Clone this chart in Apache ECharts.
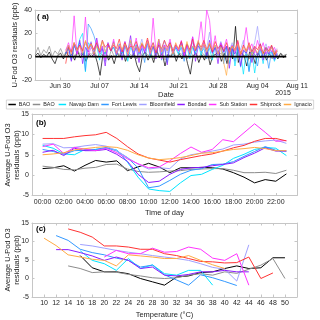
<!DOCTYPE html>
<html><head><meta charset="utf-8">
<script src="https://cdn.jsdelivr.net/npm/echarts@6/dist/echarts.min.js"></script>
<style>html,body{margin:0;padding:0;background:#fff}#c{width:320px;height:320px}</style>
</head><body><div id="c"></div>
<script>
// ---------- shared ----------
const seriesNames = ['BAO', 'BAO ', 'Navajo Dam', 'Fort Lewis', 'Bloomfield', 'Bondad', 'Sub Station', 'Shiprock', 'Ignacio'];
const seriesColors = ['#000000', '#8c8c8c', '#00e5ff', '#3399ff', '#a0a0ff', '#8c1aff', '#ff33ff', '#ff3333', '#ffaa44'];

// ---------- panel (a): residual time series (days from Jun 30 2015, 12 h step) ----------
const dateTickDays = [0, 7, 14, 21, 28, 35, 42];
const dateTickLabels = ['Jun 30', 'Jul 07', 'Jul 14', 'Jul 21', 'Jul 28', 'Aug 04', 'Aug 11'];
const aStartBAO = -4.4;
const aStartSites = 1;
const aStepDays = 0.5;
const aBAO1 = [1, 3, -1, 2, 0, 4, -2, -6, 1, 3, -2, 4, 0, 2, -3, 5, -1, 3, -4, 2, 0, 3, -5, -16, 2, 4, -3, 1, -6, 3, 0, 5, -4, 2, -2, 3, -7, -13, 1, 4, -3, 2, -5, 6, -1, 3, -8, 2, 0, 4, -4, 3, -2, 5, -6, -15, 1, 3, -5, 2, -3, 4, -7, 1, 2, 5, -4, 3, -6, 8, -2, 26, -5, 3, 1, -8, 4, 2, -6, 3, -1, 4, -3, 2, 0, 3, -2, 3, -1, 2];
const aBAO2 = [2, 8, 1, 6, 3, 9, 0, 5, 2, 7, 1, 4, 3, 6, 0, 5, 2, 4, -1, 3, 2, 5, -1, 3, 1, 4, -2, 6, 0, 3, 2, 5, -3, 4, 1, 3, -2, 5, 0, 4, 1, 3, -2, 6, 0, 4, -3, 2, 1, 5, -1, 3, 2, 4, -2, 5, 0, 3, -1, 4, 1, 5, -2, 3, 0, 4, 2, 6, -3, 3, 1, 4, -1, 5, 0, 3, -2, 4, 1, 3, -1, 4, 2, 3, -2, 5, 0, 3, 1, 2];
const aNavajoDam = [3, 7, -2, 9, 5, 15, 20, -13, 12, 8, 4, 10, -3, 7, 2, 11, 5, 8, 1, 9, 3, 12, -4, 8, 4, 10, 2, 7, 5, 11, -1, 9, 3, 12, 2, 8, -5, 10, 4, 7, 2, 11, 5, 9, -2, 8, 3, 12, 1, 10, 4, 7, -3, 9, 2, 11, 5, 8, -6, 10, -8, 6, 3, -15, 5, -12, 4, -14, 2, 6, -6, 8, 1, 5, -4, 3];
const aFortLewis = [2, 8, -3, 10, 4, 12, 6, -12, 28, 24, 18, 10, 3, 9, -4, 12, 5, 8, 2, 11, -2, 9, 4, 13, 1, 10, 3, 7, -5, 12, 4, 9, 2, 11, -3, 8, 5, 12, 1, 10, 3, 8, -4, 11, 5, 9, 2, 13, 4, 7, -2, 10, 3, 8, 1, 12, -6, 9, 2, 7, -4, 8, -9, 5, 3, -13, 6, 2, -8, 7, 1, 4, -10, 5, -3, 2];
const aBloomfield = [6, 10, 4, 12, 7, 9, 5, 11, 8, 13, 3, 10, 6, 14, 5, 9, 7, 12, 4, 10, 6, 13, 5, 9, 3, 11, 7, 15, 4, 10, 8, 12, 5, 9, 6, 14, 3, 11, 7, 10, 5, 13, 4, 10, 6, 12, 8, 11, 5, 9, 7, 21, 4, 10, 6, 13, 3, 9, 5, 12, 4, 10, 6, 14, 2, 9, 5, 12, 26, 8, 4, 11, 3, 9, 5, 7];
const aBondad = [3, 9, -4, 11, 2, 14, -6, 8, 4, 12, 1, 16, 3, 7, -8, 10, 5, 13, 2, 9, -3, 12, 4, 18, 1, 8, -5, 11, 3, 14, 2, 9, -2, 15, 4, 10, -7, 12, 3, 8, 5, 13, 0, 10, 2, 17, -4, 9, 6, 12, 1, 14, 3, 8, -6, 11, 4, 9, -10, 7, 2, 12, -8, 6, 3, 10, -5, 8, 1, 11, -3, 7, 2, 9, -2, 5];
const aSubStation = [5, 12, 3, 35, 2, 10, 4, 34, 1, 8, 6, 14, 3, 9, -3, 12, 5, 15, 2, 10, 4, 13, 0, 11, 6, 16, 3, 9, 5, 14, 2, 33, 4, 12, -2, 10, 6, 15, 3, 11, 5, 14, 1, 9, 4, 17, 6, 12, 30, 8, 40, 31, 5, 18, 2, 12, 7, 15, 3, 10, 4, 13, 0, 9, 25, 6, 11, 3, 14, 5, 12, 2, 9, 4, 8, 1];
const aShiprock = [-6, 8, 4, 12, 6, 10, 5, 13, 7, 11, 6, 12, 4, 14, 8, 11, 5, 10, 7, 15, 4, 12, 6, 9, 8, 13, 5, 11, 7, 16, 6, 12, 3, 10, 7, 14, 8, 12, 5, 10, 7, 13, 4, 11, 6, 15, 5, 12, 8, 14, 6, 11, 4, 13, 7, 10, 5, 12, 3, 9, 6, 14, 2, 10, 5, 12, 4, 9, 6, 11, 3, 8, 5, 10, 2, 6];
const aIgnacio = [4, 10, 2, 12, 5, 9, 3, 14, 6, 11, 2, 9, 5, 13, 4, 8, 7, 12, 3, 10, 6, 11, 2, 14, 5, 9, 4, 12, 7, 13, 3, 10, 6, 15, 4, 9, 5, 11, 2, 12, 6, 10, 4, 13, 3, 9, 7, 14, 5, 11, 4, 12, 6, 10, 2, 8, -5, -16, 3, 9, 5, 11, 2, 8, 4, 10, 1, 7, 3, 9, 2, 6, 4, 8, 1, 5];

// ---------- panel (b): average residual by hour of day ----------
const hours = [0, 1, 2, 3, 4, 5, 6, 7, 8, 9, 10, 11, 12, 13, 14, 15, 16, 17, 18, 19, 20, 21, 22, 23];
const hourTicks = [0, 2, 4, 6, 8, 10, 12, 14, 16, 18, 20, 22];
const hourTickLabels = ['00:00', '02:00', '04:00', '06:00', '08:00', '10:00', '12:00', '14:00', '16:00', '18:00', '20:00', '22:00'];
const bBAO1 = [1.6, 1.8, 2.3, 1.0, 2.4, 3.6, 3.2, 3.5, 1.1, 2.0, 2.9, 2.0, 0.6, 1.8, 1.8, 1.9, 1.8, 1.5, 0.6, -0.5, -1.9, -1.1, -1.5, 0.3];
const bBAO2 = [2.2, 1.9, 1.4, 1.3, 1.7, 1.9, 2.6, 2.7, 1.5, 0.9, 0.7, 0.8, 1.0, 1.1, 1.4, 1.5, 1.6, 1.6, 1.2, 0.6, 0.6, 0.7, 0.4, 1.2];
const bNavajoDam = [7.3, 6.6, 5.2, 5.0, 6.3, 6.3, 6.6, 6.2, 3.2, -0.5, -3.4, -3.8, -4.0, -1.9, -0.1, 0.2, 1.4, 2.4, 4.1, 5.1, 6.3, 6.8, 6.6, 4.8];
const bFortLewis = [6.3, 5.8, 5.1, 6.0, 6.1, 6.3, 6.8, 5.9, 4.3, 1.8, -3.1, -2.7, -1.3, 0.2, 1.2, 1.6, 2.6, 2.7, 3.3, 4.6, 5.8, 7.0, 6.1, 5.9];
const bBloomfield = [7.6, 7.7, 6.7, 6.8, 7.2, 7.5, 7.1, 6.0, 4.3, 2.7, 1.5, 1.8, 1.6, 4.0, 5.0, 5.4, 5.9, 6.4, 7.4, 7.6, 8.1, 8.4, 8.6, 7.8];
const bBondad = [5.6, 6.1, 4.8, 6.6, 6.0, 6.0, 6.3, 5.1, 3.4, 0.2, -1.8, -1.5, 0.2, 1.4, 1.8, 1.9, 2.3, 2.6, 3.0, 4.3, 5.4, 6.7, 5.9, 5.9];
const bSubStation = [7.0, 7.6, 5.3, 6.8, 6.4, 6.0, 6.6, 5.5, 4.0, 2.8, 1.8, 2.0, 3.5, 5.3, 6.9, 5.6, 6.3, 8.7, 8.2, 10.4, 12.6, 10.5, 8.3, 8.5];
const bShiprock = [9.0, 9.0, 9.0, 9.4, 9.7, 9.9, 10.5, 9.0, 7.0, 5.2, 4.2, 3.7, 3.2, 3.8, 4.3, 4.8, 5.2, 5.9, 6.7, 7.3, 8.3, 9.0, 9.0, 8.4];
const bIgnacio = [5.0, 5.2, 5.5, 6.2, 6.5, 6.8, 7.0, 6.8, 6.1, 5.0, 4.2, 3.8, 4.0, 4.3, 4.8, 5.4, 5.5, 5.9, 6.3, 6.5, 6.8, 6.5, 6.0, 6.0];

// ---------- panel (c): average residual by temperature ----------
const temps = [10, 12, 14, 16, 18, 20, 22, 24, 26, 28, 30, 32, 34, 36, 38, 40, 42, 44, 46, 48, 50];
const cBAO1 = [null, null, null, 6.2, 2.9, 1.8, 1.8, 1.3, 0.0, -0.9, -1.8, 0.4, 0.7, 1.6, 1.8, 2.7, 3.4, 2.7, 2.9, 5.6, 5.6];
const cBAO2 = [null, null, 3.4, 2.7, 1.6, 1.8, 1.7, 1.1, 0.7, 0.2, 0.0, 0.2, 0.9, 1.3, 0.9, 1.8, 1.4, 2.5, 3.6, 5.4, 0.0];
const cNavajoDam = [null, null, null, 7.5, 4.9, 4.0, 2.2, 5.4, 2.7, 3.7, 1.3, 0.9, 2.2, 2.2, -1.8, null, null, null, null, null, null];
const cFortLewis = [null, 11.6, 10.3, 7.9, 7.0, 6.4, 5.5, 4.9, 3.1, 3.6, 1.0, -0.4, -1.8, 1.0, 0.2, -0.8, -1.9, null, null, null, null];
const cBloomfield = [null, null, null, 9.2, 8.8, 8.2, 7.6, 7.1, 6.7, 6.2, 5.8, 5.4, 4.9, 4.0, 3.0, 2.5, -0.7, 9.1, null, null, null];
const cBondad = [null, 7.8, 7.8, 7.0, 6.1, 4.9, 5.8, 4.9, 2.7, 3.1, 0.9, 0.7, 1.1, 1.8, 1.8, 2.2, 1.8, 1.8, null, null, null];
const cSubStation = [null, null, null, null, null, 5.8, 7.6, 6.7, 6.7, 8.2, 7.1, 7.3, 8.5, 7.9, 5.5, 4.9, 6.7, -1.8, null, null, null];
const cShiprock = [null, null, 13.4, 12.5, 11.2, 8.8, 8.8, 8.5, 7.9, 7.9, 6.7, 6.2, 5.4, 4.6, 4.5, 4.2, 4.3, 5.8, 0.0, 1.5, null];
const cIgnacio = [10.9, 8.9, 6.4, 5.8, 5.2, 4.9, 3.4, 6.4, 6.1, 5.8, 5.4, 5.4, 6.2, 4.9, 3.7, 2.7, null, null, null, null, null];
const tempTicks = [10, 12, 14, 16, 18, 20, 22, 24, 26, 28, 30, 32, 34, 36, 38, 40, 42, 44, 46, 48, 50];

// ---------- build ----------
const aSets = [aBAO1, aBAO2, aNavajoDam, aFortLewis, aBloomfield, aBondad, aSubStation, aShiprock, aIgnacio];
const aStarts = [aStartBAO, aStartBAO, aStartSites, aStartSites, aStartSites, aStartSites, aStartSites, aStartSites, aStartSites];
const bSets = [bBAO1, bBAO2, bNavajoDam, bFortLewis, bBloomfield, bBondad, bSubStation, bShiprock, bIgnacio];
const cSets = [cBAO1, cBAO2, cNavajoDam, cFortLewis, cBloomfield, cBondad, cSubStation, cShiprock, cIgnacio];

const FONT = '"Liberation Sans", Arial, sans-serif';
const frame = '#c6c6c6';
const txt = '#262626';

function xBottom(gi, min, max, ticks, fmt, name, gap) {
  return {
    type: 'value', gridIndex: gi, min: min, max: max, position: 'bottom',
    axisLine: { show: true, onZero: false, lineStyle: { color: frame, width: 1 } },
    axisTick: { show: true, inside: true, length: 2.5, customValues: ticks, lineStyle: { color: frame } },
    axisLabel: { show: true, customValues: ticks, formatter: fmt, fontSize: 7, color: txt, margin: 3, fontFamily: FONT, hideOverlap: false },
    splitLine: { show: false },
    name: name, nameLocation: 'middle', nameGap: gap,
    nameTextStyle: { fontSize: 7.5, color: txt, fontFamily: FONT }
  };
}
function xTop(gi, min, max, ticks) {
  return {
    type: 'value', gridIndex: gi, min: min, max: max, position: 'top',
    axisLine: { show: true, onZero: false, lineStyle: { color: frame, width: 1 } },
    axisTick: { show: true, inside: true, length: 2.5, customValues: ticks, lineStyle: { color: frame } },
    axisLabel: { show: false, customValues: ticks },
    splitLine: { show: false }
  };
}
function yLeft(gi, min, max, interval) {
  return {
    type: 'value', gridIndex: gi, min: min, max: max, interval: interval, position: 'left',
    axisLine: { show: true, onZero: false, lineStyle: { color: frame, width: 1 } },
    axisTick: { show: true, inside: true, length: 2.5, lineStyle: { color: frame } },
    axisLabel: { show: true, fontSize: 7, color: txt, margin: 3, fontFamily: FONT },
    splitLine: { show: false }
  };
}
function yRight(gi, min, max, interval) {
  return {
    type: 'value', gridIndex: gi, min: min, max: max, interval: interval, position: 'right',
    axisLine: { show: true, onZero: false, lineStyle: { color: frame, width: 1 } },
    axisTick: { show: true, inside: true, length: 2.5, lineStyle: { color: frame } },
    axisLabel: { show: false },
    splitLine: { show: false }
  };
}

const series = [];
aSets.forEach((arr, k) => {
  series.push({
    name: seriesNames[k], type: 'line', xAxisIndex: 0, yAxisIndex: 0,
    data: arr.map((v, i) => [aStarts[k] + i * aStepDays, v]),
    symbol: 'none', lineStyle: { width: 0.7, color: seriesColors[k] }, itemStyle: { color: seriesColors[k] },
    animation: false, z: 2 + k
  });
});
// zero reference line across the BAO record
series.push({
  name: 'zero', type: 'line', xAxisIndex: 0, yAxisIndex: 0,
  data: [[aStartBAO, 0], [aStartBAO + (aBAO1.length - 1) * aStepDays, 0]],
  symbol: 'none', lineStyle: { width: 1.6, color: '#000' }, animation: false, z: 20, silent: true
});
bSets.forEach((arr, k) => {
  series.push({
    name: seriesNames[k], type: 'line', xAxisIndex: 2, yAxisIndex: 2,
    data: arr.map((v, i) => [hours[i], v]),
    symbol: 'none', lineStyle: { width: 1, color: seriesColors[k] }, itemStyle: { color: seriesColors[k] },
    animation: false, z: 2 + k
  });
});
cSets.forEach((arr, k) => {
  series.push({
    name: seriesNames[k], type: 'line', xAxisIndex: 4, yAxisIndex: 4,
    data: arr.map((v, i) => [temps[i], v]),
    symbol: 'none', connectNulls: false, lineStyle: { width: 1, color: seriesColors[k] }, itemStyle: { color: seriesColors[k] },
    animation: false, z: 2 + k
  });
});

const chart = echarts.init(document.getElementById('c'), null, { renderer: 'canvas' });
chart.setOption({
  animation: false,
  backgroundColor: '#fff',
  grid: [
    { left: 35, right: 23, top: 10, height: 70 },
    { left: 32, right: 23, top: 114, height: 81.5 },
    { left: 32, right: 23, top: 223, height: 74 }
  ],
  xAxis: [
    xBottom(0, -4.44, 42, dateTickDays, v => dateTickLabels[dateTickDays.indexOf(v)], 'Date', 9),
    xTop(0, -4.44, 42, dateTickDays),
    xBottom(1, -1, 24, hourTicks, v => hourTickLabels[hourTicks.indexOf(v)], 'Time of day', 13.5),
    xTop(1, -1, 24, hourTicks),
    xBottom(2, 8, 52, tempTicks, v => String(v), 'Temperature (°C)', 14),
    xTop(2, 8, 52, tempTicks)
  ],
  yAxis: [
    yLeft(0, -20, 40, 20), yRight(0, -20, 40, 20),
    yLeft(1, -5, 15, 5), yRight(1, -5, 15, 5),
    yLeft(2, -5, 15, 5), yRight(2, -5, 15, 5)
  ],
  legend: {
    data: seriesNames, top: 100, left: 'center', width: 316, orient: 'horizontal',
    icon: 'rect', itemWidth: 7.5, itemHeight: 1.5, itemGap: 2.5,
    textStyle: { fontSize: 5.4, color: txt, fontFamily: FONT, padding: [0, 0, 0, -2] },
    borderColor: '#bdbdbd', borderWidth: 0.6, padding: [2, 2],
    selectedMode: false
  },
  graphic: [
    { type: 'text', left: 37, top: 13, style: { text: '( a)', font: 'bold 8px ' + FONT, fill: '#000' } },
    { type: 'text', left: 36, top: 119, style: { text: '(b)', font: 'bold 8px ' + FONT, fill: '#000' } },
    { type: 'text', left: 36, top: 225, style: { text: '(c)', font: 'bold 8px ' + FONT, fill: '#000' } },
    { type: 'text', x: 283, y: 93, style: { text: '2015', font: '7px ' + FONT, fill: txt, align: 'center', verticalAlign: 'middle' } },
    { type: 'text', x: 15, y: 45, rotation: Math.PI / 2, style: { text: 'U-Pod O3 residuals (ppb)', font: '7.5px ' + FONT, fill: txt, align: 'center', verticalAlign: 'middle' } },
    { type: 'text', x: 12.5, y: 155, rotation: Math.PI / 2, style: { text: 'Average U-Pod O3\nresiduals (ppb)', font: '7.5px ' + FONT, fill: txt, align: 'center', verticalAlign: 'middle', lineHeight: 9 } },
    { type: 'text', x: 12.5, y: 260, rotation: Math.PI / 2, style: { text: 'Average U-Pod O3\nresiduals (ppb)', font: '7.5px ' + FONT, fill: txt, align: 'center', verticalAlign: 'middle', lineHeight: 9 } }
  ],
  series: series
});
</script>
</body></html>
